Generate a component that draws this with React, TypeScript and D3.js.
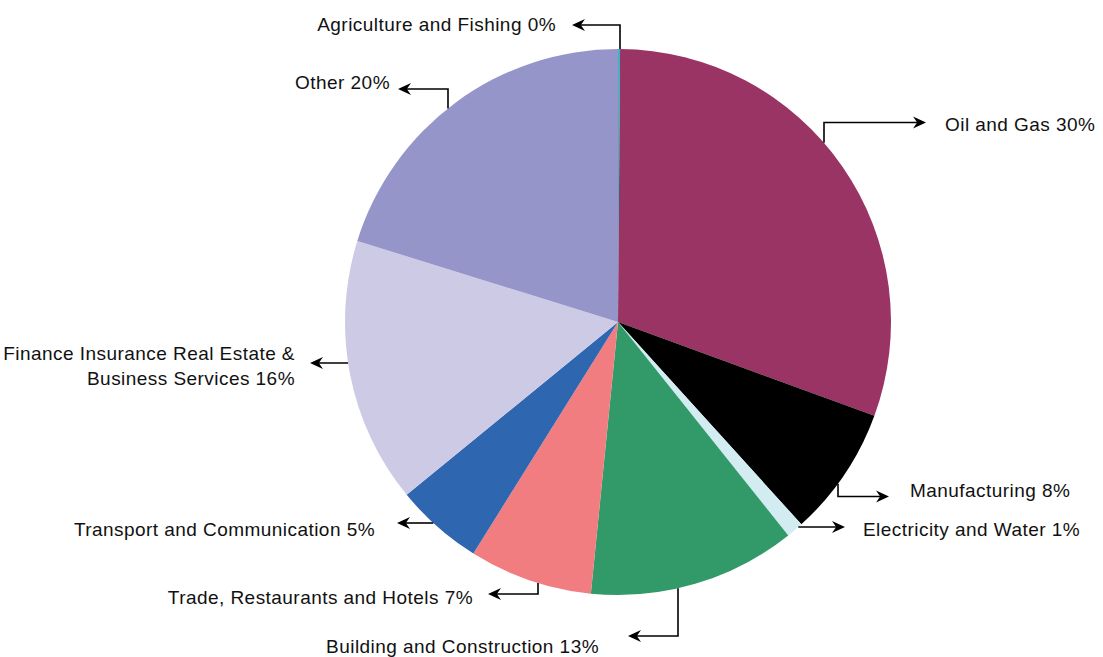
import React from "react";
import * as d3 from "d3";

const categories = [
  "Agriculture and Fishing",
  "Oil and Gas",
  "Manufacturing",
  "Electricity and Water",
  "Building and Construction",
  "Trade, Restaurants and Hotels",
  "Transport and Communication",
  "Finance Insurance Real Estate & Business Services",
  "Other",
];
const values = [0.12, 30.45, 7.7, 1.0, 12.3, 7.3, 5.2, 15.7, 20.2];
const labelTexts = [
  ["Agriculture and Fishing 0%"],
  ["Oil and Gas 30%"],
  ["Manufacturing 8%"],
  ["Electricity and Water 1%"],
  ["Building and Construction 13%"],
  ["Trade, Restaurants and Hotels 7%"],
  ["Transport and Communication 5%"],
  ["Finance Insurance Real Estate &", "Business Services 16%"],
  ["Other 20%"],
];
const colors = [
  "#3ab5c4",
  "#993464",
  "#000000",
  "#d3ecf1",
  "#329a69",
  "#f27d80",
  "#2f66b0",
  "#cdcae6",
  "#9695c9",
];

// layout of leaders & labels
type Leader =
  | { kind: "v"; x: number; elbowY: number; tipX: number }
  | { kind: "h"; y: number; tipX: number };
const leaders: Leader[] = [
  { kind: "v", x: 620, elbowY: 25, tipX: 572 },
  { kind: "v", x: 824, elbowY: 122.5, tipX: 926 },
  { kind: "v", x: 838, elbowY: 496.5, tipX: 889 },
  { kind: "h", y: 527, tipX: 845 },
  { kind: "v", x: 678, elbowY: 636, tipX: 628 },
  { kind: "v", x: 538, elbowY: 594, tipX: 488 },
  { kind: "h", y: 523, tipX: 397 },
  { kind: "h", y: 363, tipX: 310 },
  { kind: "v", x: 448, elbowY: 89, tipX: 398 },
];
const labelPos = [
  { x: 556, y: 31, anchor: "end" },
  { x: 945, y: 131, anchor: "start" },
  { x: 910, y: 497, anchor: "start" },
  { x: 863, y: 535.5, anchor: "start" },
  { x: 599, y: 652.5, anchor: "end" },
  { x: 473, y: 604, anchor: "end" },
  { x: 375, y: 536, anchor: "end" },
  { x: 295, y: 359.5, anchor: "end" },
  { x: 390, y: 89, anchor: "end" },
];

const W = 1103;
const H = 657;
const CX = 618;
const CY = 322;
const R = 273;

export default function App() {
  const pie = d3
    .pie<number>()
    .sort(null)
    .value((d) => d)
    .startAngle(0)
    .endAngle(2 * Math.PI);
  const arcs = pie(values);
  const arc = d3.arc<d3.PieArcDatum<number>>().innerRadius(0).outerRadius(R);

  const leaderPath = (l: Leader) => {
    if (l.kind === "v") {
      const dx = l.x - CX;
      const dy = Math.sqrt(Math.max(0, R * R - dx * dx));
      const sy = l.elbowY < CY ? CY - dy : CY + dy;
      const p = d3.path();
      p.moveTo(l.x, sy);
      p.lineTo(l.x, l.elbowY);
      p.lineTo(l.tipX + (l.tipX > l.x ? -6 : 6), l.elbowY);
      return { d: p.toString(), tipX: l.tipX, tipY: l.elbowY, dir: l.tipX > l.x ? 1 : -1 };
    } else {
      const dy = l.y - CY;
      const dx = Math.sqrt(Math.max(0, R * R - dy * dy));
      const dir = l.tipX > CX ? 1 : -1;
      const sx = CX + dir * dx;
      const p = d3.path();
      p.moveTo(sx, l.y);
      p.lineTo(l.tipX - dir * 6, l.y);
      return { d: p.toString(), tipX: l.tipX, tipY: l.y, dir };
    }
  };

  const arrowHead = (x: number, y: number, dir: number) => {
    const L = 13;
    const Wd = 6;
    const p = d3.path();
    p.moveTo(x, y);
    p.lineTo(x - dir * L, y - Wd);
    p.lineTo(x - dir * L * 0.68, y);
    p.lineTo(x - dir * L, y + Wd);
    p.closePath();
    return p.toString();
  };

  return (
    <div style={{ position: "absolute", left: 0, top: 0 }}>
      <svg width={W} height={H} style={{ display: "block", background: "#fff" }}>
        <g transform={`translate(${CX},${CY})`}>
          {arcs.map((a, i) => (
            <path key={categories[i]} d={arc(a) || ""} fill={colors[i]} />
          ))}
        </g>
        {leaders.map((l, i) => {
          const lp = leaderPath(l);
          return (
            <g key={"l" + i}>
              <path d={lp.d} fill="none" stroke="#000" strokeWidth={1.6} />
              <path d={arrowHead(lp.tipX, lp.tipY, lp.dir)} fill="#000" />
            </g>
          );
        })}
        {labelTexts.map((lines, i) => (
          <text
            key={"t" + i}
            x={labelPos[i].x}
            y={labelPos[i].y}
            textAnchor={labelPos[i].anchor as any}
            fontFamily="'Liberation Sans', Arial, sans-serif"
            fontSize={19}
            letterSpacing={0.45}
            fill="#111"
          >
            {lines.map((ln, j) => (
              <tspan key={j} x={labelPos[i].x} dy={j === 0 ? 0 : 25}>
                {ln}
              </tspan>
            ))}
          </text>
        ))}
      </svg>
    </div>
  );
}
